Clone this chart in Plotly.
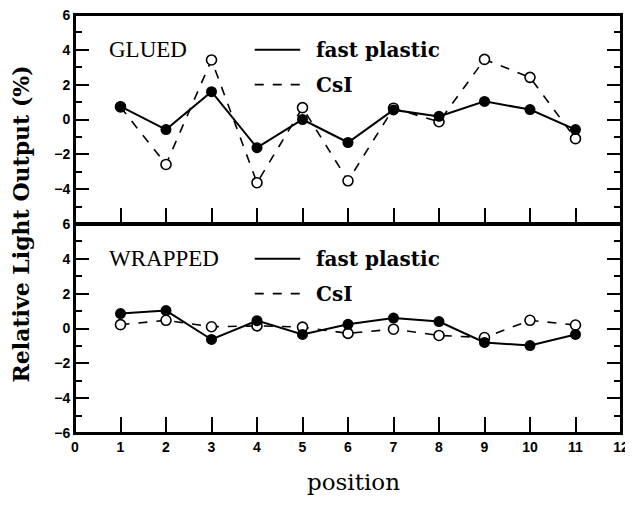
import plotly.graph_objects as go
from plotly.subplots import make_subplots

positions = [1, 2, 3, 4, 5, 6, 7, 8, 9, 10, 11]
glued_fast_plastic = [0.75, -0.58, 1.6, -1.62, 0.0, -1.32, 0.55, 0.18, 1.04, 0.57, -0.58]
glued_csi = [0.72, -2.58, 3.42, -3.63, 0.68, -3.52, 0.65, -0.13, 3.45, 2.42, -1.1]
wrapped_fast_plastic = [0.86, 1.03, -0.63, 0.45, -0.34, 0.24, 0.6, 0.4, -0.8, -0.98, -0.34]
wrapped_csi = [0.22, 0.47, 0.1, 0.15, 0.08, -0.28, -0.04, -0.4, -0.52, 0.47, 0.2]
x_ticks = list(range(0, 13))
top_y_ticks = [-4, -2, 0, 2, 4, 6]
bottom_y_ticks = [-6, -4, -2, 0, 2, 4, 6]

fig = make_subplots(rows=2, cols=1, shared_xaxes=True, vertical_spacing=0)

def add_panel(row, fp, csi):
    fig.add_trace(go.Scatter(
        x=positions, y=csi, mode="lines+markers",
        line=dict(color="black", width=1.6, dash="dash"),
        marker=dict(symbol="circle", size=10, color="white", line=dict(color="black", width=1.6)),
        showlegend=False), row=row, col=1)
    fig.add_trace(go.Scatter(
        x=positions, y=fp, mode="lines+markers",
        line=dict(color="black", width=2),
        marker=dict(symbol="circle", size=11, color="black"),
        showlegend=False), row=row, col=1)

add_panel(1, glued_fast_plastic, glued_csi)
add_panel(2, wrapped_fast_plastic, wrapped_csi)

tickfont = dict(family="Liberation Sans", size=14, color="black", weight="bold")

common_y = dict(range=[-6, 6], showline=True, linecolor="black", linewidth=2,
                mirror="ticks", ticks="inside", ticklen=14, tickwidth=2, tickcolor="black",
                minor=dict(dtick=1, tick0=0, ticks="inside", ticklen=7, tickwidth=2,
                           tickcolor="black", showgrid=False),
                showgrid=False, zeroline=False, tickfont=tickfont, automargin=False,
                ticklabeloverflow="allow")
fig.update_yaxes(tickvals=top_y_ticks, **common_y, row=1, col=1)
fig.update_yaxes(tickvals=bottom_y_ticks, **common_y, row=2, col=1)

common_x = dict(range=[0, 12], showline=True, linecolor="black", linewidth=2,
                mirror=True, ticks="inside", ticklen=16, tickwidth=2, tickcolor="black",
                showgrid=False, zeroline=False, tickfont=tickfont, automargin=False,
                ticklabeloverflow="allow")
fig.update_xaxes(tickvals=positions, showticklabels=False, **common_x, row=1, col=1)
fig.update_xaxes(tickvals=x_ticks, showticklabels=True, **common_x, row=2, col=1)

# top border of the upper panel (paper-referenced, never clipped)
fig.add_shape(type="line", x0=0, x1=1, y0=1, y1=1, xref="paper", yref="paper",
              line=dict(color="black", width=2))

for xref, yref, name in [("x", "y", "GLUED"), ("x2", "y2", "WRAPPED")]:
    fig.add_shape(type="rect", x0=0, x1=1, y0=0, y1=1,
                  xref=xref + " domain", yref=yref + " domain",
                  line=dict(color="black", width=2), fillcolor="rgba(0,0,0,0)")
    fig.add_annotation(x=0.7, y=4, xref=xref, yref=yref, text=name, showarrow=False,
                       xanchor="left", yanchor="middle",
                       font=dict(family="Liberation Serif", size=23, color="black"))
    fig.add_shape(type="line", x0=3.95, x1=4.95, y0=4, y1=4, xref=xref, yref=yref,
                  line=dict(color="black", width=2))
    fig.add_shape(type="line", x0=3.95, x1=4.95, y0=2, y1=2, xref=xref, yref=yref,
                  line=dict(color="black", width=1.6, dash="dash"))
    fig.add_annotation(x=5.25, y=4, xref=xref, yref=yref, text="fast plastic", showarrow=False,
                       xanchor="left", yanchor="middle",
                       font=dict(family="DejaVu Serif", size=20, color="black", weight="bold"))
    fig.add_annotation(x=5.25, y=2, xref=xref, yref=yref, text="CsI", showarrow=False,
                       xanchor="left", yanchor="middle",
                       font=dict(family="DejaVu Serif", size=20, color="black", weight="bold"))

fig.add_annotation(x=-0.098, y=0.5, xref="paper", yref="paper", xanchor="center", yanchor="middle",
                   text="Relative Light Output (%)", textangle=-90, showarrow=False,
                   font=dict(family="DejaVu Serif", size=22, color="black", weight="bold"))
fig.add_annotation(x=0.51, y=-0.152, xref="paper", yref="paper", xanchor="center", yanchor="bottom",
                   text="position", showarrow=False,
                   font=dict(family="DejaVu Serif", size=23, color="black"))

fig.update_layout(width=622, height=491, margin=dict(l=67, r=9, t=7, b=66, autoexpand=False),
                  plot_bgcolor="white", paper_bgcolor="white")

fig.write_html("out.html")
